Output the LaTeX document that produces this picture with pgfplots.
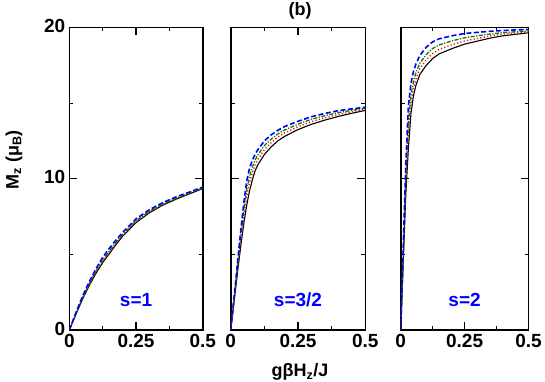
\documentclass[border=0pt]{standalone}
\usepackage{pgfplots}
\pgfplotsset{compat=1.18}
\usepackage{fontspec}
\setmainfont{Liberation Sans}

\pgfplotsset{
  panel/.style={
    scale only axis, height=302.5pt,
    xmin=0, xmax=0.5, ymin=0, ymax=20,
    xtick={0,0.25,0.5}, xticklabels={0,0.25,0.5},
    minor xtick={0.125,0.375},
    ytick={0,10,20}, yticklabels={0,10,20}, minor ytick={5,15},
    major tick length=8pt, minor tick length=4pt,
    tick align=inside,
    axis line style={line width=1.6pt},
    every tick/.style={line width=1.2pt, black},
    tick label style={font=\fontsize{19}{21}\selectfont\bfseries},
    yticklabel style={xshift=-0.5pt, yshift=1.5pt},
    xticklabel style={yshift=-1pt},
  },
  blk/.style={black, line width=1.1pt},
  rd/.style={red, line width=1.3pt, dash pattern=on 1.2pt off 2.2pt},
  gr/.style={green!50!black, line width=1.3pt, dash pattern=on 4pt off 1.5pt on 1.2pt off 1.5pt},
  bl/.style={blue, line width=1.6pt, dash pattern=on 5pt off 2.5pt},
}

\begin{document}
\begin{tikzpicture}[x=1pt,y=1pt]
\path[use as bounding box] (0,0) rectangle (545,382);

% s=1
\begin{axis}[panel, width=133.5pt, at={(69.3pt,52pt)}, anchor=south west]
\addplot[blk] coordinates {(0,0) (0.025,1.05) (0.05,2.05) (0.075,2.95) (0.1,3.75) (0.125,4.45) (0.15,5.05) (0.175,5.65) (0.2,6.2) (0.25,7.1) (0.3,7.75) (0.35,8.25) (0.4,8.65) (0.45,9.0) (0.5,9.35)};
\addplot[rd] coordinates {(0,0) (0.025,1.07) (0.05,2.1) (0.075,3.01) (0.1,3.82) (0.125,4.54) (0.15,5.14) (0.175,5.72) (0.2,6.26) (0.25,7.16) (0.3,7.8) (0.35,8.29) (0.4,8.69) (0.45,9.03) (0.5,9.37)};
\addplot[gr] coordinates {(0,0) (0.025,1.1) (0.05,2.15) (0.075,3.07) (0.1,3.9) (0.125,4.62) (0.15,5.22) (0.175,5.8) (0.2,6.32) (0.25,7.22) (0.3,7.85) (0.35,8.33) (0.4,8.72) (0.45,9.06) (0.5,9.4)};
\addplot[bl] coordinates {(0,0) (0.025,1.15) (0.05,2.25) (0.075,3.2) (0.1,4.05) (0.125,4.8) (0.15,5.4) (0.175,5.95) (0.2,6.45) (0.25,7.35) (0.3,7.95) (0.35,8.42) (0.4,8.8) (0.45,9.12) (0.5,9.45)};
\node[text=blue, font=\fontsize{19}{21}\selectfont\bfseries] at (axis cs:0.25,2) {s=1};
\end{axis}

% s=3/2
\begin{axis}[panel, width=134.6pt, at={(230.7pt,52pt)}, anchor=south west, yticklabels={,,}]
\addplot[blk] coordinates {(0,0) (0.01,1.5) (0.02,3.0) (0.03,4.5) (0.04,5.9) (0.05,7.2) (0.06,8.3) (0.07,9.2) (0.08,9.9) (0.09,10.5) (0.1,10.9) (0.125,11.6) (0.15,12.1) (0.175,12.5) (0.2,12.8) (0.25,13.25) (0.3,13.6) (0.35,13.88) (0.4,14.12) (0.45,14.33) (0.5,14.52)};
\addplot[rd] coordinates {(0,0) (0.01,1.59) (0.02,3.18) (0.03,4.78) (0.04,6.29) (0.05,7.69) (0.06,8.86) (0.07,9.73) (0.08,10.36) (0.09,10.89) (0.1,11.25) (0.125,11.92) (0.15,12.38) (0.175,12.75) (0.2,13.03) (0.25,13.44) (0.3,13.78) (0.35,14.03) (0.4,14.25) (0.45,14.43) (0.5,14.59)};
\addplot[gr] coordinates {(0,0) (0.01,1.66) (0.02,3.33) (0.03,5.02) (0.04,6.62) (0.05,8.11) (0.06,9.34) (0.07,10.18) (0.08,10.75) (0.09,11.22) (0.1,11.55) (0.125,12.19) (0.15,12.62) (0.175,12.96) (0.2,13.22) (0.25,13.61) (0.3,13.93) (0.35,14.17) (0.4,14.37) (0.45,14.52) (0.5,14.66)};
\addplot[bl] coordinates {(0,0) (0.01,1.75) (0.02,3.5) (0.03,5.3) (0.04,7.0) (0.05,8.6) (0.06,9.9) (0.07,10.7) (0.08,11.2) (0.09,11.6) (0.1,11.9) (0.125,12.5) (0.15,12.9) (0.175,13.2) (0.2,13.45) (0.25,13.8) (0.3,14.1) (0.35,14.32) (0.4,14.5) (0.45,14.62) (0.5,14.73)};
\node[text=blue, font=\fontsize{19}{21}\selectfont\bfseries] at (axis cs:0.25,2) {s=3/2};
\end{axis}

% s=2
\begin{axis}[panel, width=127.8pt, at={(400.7pt,52pt)}, anchor=south west, yticklabels={,,}]
\addplot[blk] coordinates {(0,0) (0.01,4.5) (0.02,9.0) (0.03,12.0) (0.04,14.3) (0.05,15.5) (0.06,16.2) (0.075,16.9) (0.1,17.5) (0.125,17.95) (0.15,18.25) (0.2,18.6) (0.25,18.9) (0.3,19.1) (0.35,19.3) (0.4,19.45) (0.45,19.55) (0.5,19.65)};
\addplot[rd] coordinates {(0,0) (0.01,4.8) (0.02,9.6) (0.03,12.84) (0.04,14.9) (0.05,15.98) (0.06,16.62) (0.075,17.28) (0.1,17.86) (0.125,18.28) (0.15,18.55) (0.2,18.86) (0.25,19.11) (0.3,19.27) (0.35,19.44) (0.4,19.56) (0.45,19.64) (0.5,19.72)};
\addplot[gr] coordinates {(0,0) (0.01,5.1) (0.02,10.2) (0.03,13.68) (0.04,15.5) (0.05,16.46) (0.06,17.04) (0.075,17.65) (0.1,18.22) (0.125,18.61) (0.15,18.85) (0.2,19.11) (0.25,19.32) (0.3,19.45) (0.35,19.57) (0.4,19.66) (0.45,19.72) (0.5,19.78)};
\addplot[bl] coordinates {(0,0) (0.01,5.5) (0.02,11.0) (0.03,14.8) (0.04,16.3) (0.05,17.1) (0.06,17.6) (0.075,18.15) (0.1,18.7) (0.125,19.05) (0.15,19.25) (0.2,19.45) (0.25,19.6) (0.3,19.68) (0.35,19.75) (0.4,19.8) (0.45,19.84) (0.5,19.87)};
\node[text=blue, font=\fontsize{19}{21}\selectfont\bfseries] at (axis cs:0.25,2) {s=2};
\end{axis}

\node[rotate=90, font=\fontsize{18}{20}\selectfont\bfseries] at (14,222) {M\textsubscript{z} (μ\textsubscript{B})};
\node[font=\fontsize{18}{20}\selectfont\bfseries] at (300,371) {(b)};
\node[font=\fontsize{18}{20}\selectfont\bfseries] at (300,10) {gβH\textsubscript{z}/J};
\end{tikzpicture}
\end{document}
